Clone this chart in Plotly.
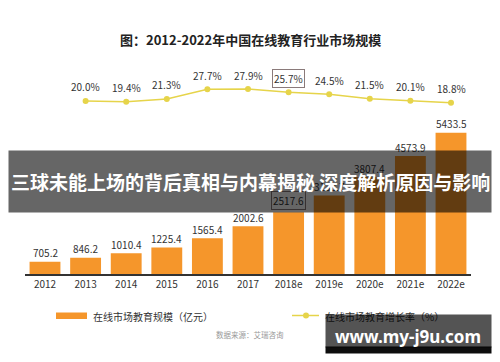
import plotly.graph_objects as go

years = ["2012", "2013", "2014", "2015", "2016", "2017", "2018e", "2019e", "2020e", "2021e", "2022e"]
market_size = [705.2, 846.2, 1010.4, 1225.4, 1565.4, 2002.6, 2517.6, 3133.7, 3807.4, 4573.9, 5433.5]
growth_years = ["2013", "2014", "2015", "2016", "2017", "2018e", "2019e", "2020e", "2021e", "2022e"]
growth_rate = [20.0, 19.4, 21.3, 27.7, 27.9, 25.7, 24.5, 21.5, 20.1, 18.8]

W, H = 500, 362
def py(p):
    return 1 - p / H
def px(p):
    return p / W

FONT = "Noto Sans CJK SC"
ORANGE = "#F5962B"
YELLOW = "#E6D44A"

fig = go.Figure()
fig.add_trace(go.Bar(x=years, y=market_size, marker=dict(color=ORANGE, line=dict(width=0)),
                     showlegend=False, hoverinfo="skip"))
fig.add_trace(go.Scatter(x=growth_years, y=growth_rate, yaxis="y2", mode="lines+markers",
                         line=dict(color=YELLOW, width=1.5), marker=dict(color=YELLOW, size=6),
                         showlegend=False, hoverinfo="skip"))

ann = []
# title
ann.append(dict(text="<b>图：2012-2022年中国在线教育行业市场规模</b>", x=0.5, y=py(40), xref="paper", yref="paper",
                showarrow=False, xanchor="center", yanchor="middle", font=dict(family=FONT, size=13, color="#222")))
# bar labels
for yr, v in zip(years, market_size):
    boxed = yr == "2018e"
    ann.append(dict(text=f"{v:.1f}", x=years.index(yr), y=v, xref="x", yref="y", showarrow=False,
                    xanchor="center", yanchor="middle", yshift=12 if boxed else 9,
                    font=dict(family=FONT, size=10, color="#333"),
                    bordercolor="#8a7a7a" if boxed else "rgba(0,0,0,0)", borderwidth=1 if boxed else 0, borderpad=1))
# line labels
for yr, v in zip(growth_years, growth_rate):
    boxed = yr == "2018e"
    ann.append(dict(text=f"{v:.1f}%", x=years.index(yr), y=v, xref="x", yref="y2", showarrow=False,
                    xanchor="center", yanchor="middle", yshift=14,
                    font=dict(family=FONT, size=10, color="#333"),
                    bordercolor="#8a7a7a" if boxed else "rgba(0,0,0,0)", borderwidth=1 if boxed else 0, borderpad=1))
# legend texts
ann.append(dict(text="在线市场教育规模（亿元）", x=px(91), y=py(316), xref="paper", yref="paper", showarrow=False,
                xanchor="left", yanchor="middle", font=dict(family=FONT, size=10, color="#333")))
ann.append(dict(text="在线市场教育增长率（%）", x=px(323), y=py(316), xref="paper", yref="paper", showarrow=False,
                xanchor="left", yanchor="middle", font=dict(family=FONT, size=10, color="#333")))
ann.append(dict(text="数据来源：艾瑞咨询", x=px(250), y=py(334), xref="paper", yref="paper", showarrow=False,
                xanchor="center", yanchor="middle", font=dict(family=FONT, size=7.5, color="#999")))
# banner overlay
ann.append(dict(text=" ", x=px(250), y=py(181.5), xref="paper", yref="paper", showarrow=False,
                xanchor="center", yanchor="middle", width=482, height=61, borderpad=0,
                bgcolor="rgba(0,0,0,0.6)"))
ann.append(dict(text="<b>三球未能上场的背后真相与内幕揭秘 深度解析原因与影响</b>", x=px(250), y=py(181), xref="paper", yref="paper",
                showarrow=False, xanchor="center", yanchor="middle",
                font=dict(family=FONT, size=19, color="white")))
# watermark overlay
ann.append(dict(text=" ", x=px(408.5), y=py(331), xref="paper", yref="paper", showarrow=False,
                xanchor="center", yanchor="middle", width=165, height=32, borderpad=0,
                bgcolor="rgba(0,0,0,0.67)"))
ann.append(dict(text=" ", x=px(408.5), y=py(350), xref="paper", yref="paper", showarrow=False,
                xanchor="center", yanchor="middle", width=165, height=6, borderpad=0,
                bgcolor="rgba(0,0,0,0.95)"))
ann.append(dict(text="<b>www.my-j9u.com</b>", x=px(408), y=py(336.5), xref="paper", yref="paper",
                showarrow=False, xanchor="center", yanchor="middle",
                font=dict(family="Noto Sans", size=17, color="white")))

shapes = [
    dict(type="rect", xref="paper", yref="paper", x0=px(56), x1=px(87), y0=py(319), y1=py(312.5),
         fillcolor=ORANGE, line=dict(width=0)),
    dict(type="line", xref="paper", yref="paper", x0=px(292), x1=px(319), y0=py(315.5), y1=py(315.5),
         line=dict(color=YELLOW, width=1.5)),
    dict(type="circle", xref="paper", yref="paper", x0=px(303), x1=px(309), y0=py(318.5), y1=py(312.5),
         fillcolor=YELLOW, line=dict(width=0)),
]

fig.update_layout(
    width=W, height=H, margin=dict(l=0, r=0, t=0, b=0),
    paper_bgcolor="white", plot_bgcolor="white",
    bargap=0.24,
    xaxis=dict(domain=[px(24.7), px(471.3)], type="category", categoryorder="array", categoryarray=years,
               range=[-0.5, len(years) - 0.5], autorange=False,
               showline=True, linecolor="#333", linewidth=1.5, showgrid=False, ticks="",
               tickfont=dict(family=FONT, size=10, color="#333"), fixedrange=True),
    yaxis=dict(domain=[py(274), py(120)], range=[253, 5898], autorange=False, visible=False, showgrid=False),
    yaxis2=dict(domain=[py(110), py(80)], range=[13.93, 33.93], autorange=False, anchor="x", visible=False, showgrid=False),
    annotations=ann, shapes=shapes, showlegend=False,
)

fig.write_html("out.html", config={"displayModeBar": False},
               post_script="document.body.style.margin='0';document.body.style.overflow='hidden';")
